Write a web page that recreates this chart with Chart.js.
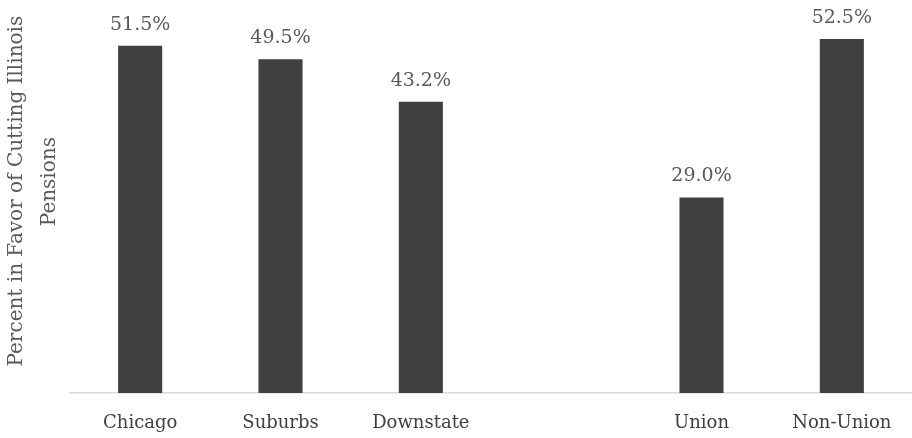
<!DOCTYPE html>
<html>
<head>
<meta charset="utf-8">
<script src="https://cdn.jsdelivr.net/npm/chart.js@4"></script>
<style>
	html, body { margin: 0; padding: 0; background: #fff; }
	#wrap { width: 912px; height: 438px; }
</style>
</head>
<body>
<div id="wrap"><canvas id="myChart"></canvas></div>
<script>
const categories = ["Chicago", "Suburbs", "Downstate", "", "Union", "Non-Union"];
const percentValues = [51.5, 49.5, 43.2, null, 29.0, 52.5];
// leading spaces nudge each line up a bit, like the original's layout
const axisTitle = ["  Percent in Favor of Cutting Illinois", "     Pensions"];

// draws the "51.5%" style labels above each bar
const valueLabels = {
	id: "valueLabels",
	afterDatasetsDraw(chart) {
		const ctx = chart.ctx;
		const meta = chart.getDatasetMeta(0);
		ctx.save();
		ctx.font = "19px 'DejaVu Serif'";
		ctx.fillStyle = "#595959";
		ctx.textAlign = "center";
		ctx.textBaseline = "middle";
		meta.data.forEach((bar, i) => {
			const v = percentValues[i];
			if (v === null) return;
			ctx.fillText(v.toFixed(1) + "%", bar.x, bar.y - 21);
		});
		ctx.restore();
	},
};

new Chart(document.getElementById("myChart"), {
	type: "bar",
	data: {
		labels: categories,
		datasets: [
			{
				data: percentValues,
				backgroundColor: "#404040",
				borderWidth: 0,
				barPercentage: 0.314,
				categoryPercentage: 1,
			},
		],
	},
	options: {
		responsive: true,
		maintainAspectRatio: false,
		animation: false,
		layout: {
			padding: { top: 2, right: 0, bottom: 0, left: 0 },
		},
		scales: {
			x: {
				grid: { display: false, drawTicks: false },
				border: { display: true, color: "#d9d9d9", width: 1.5 },
				ticks: {
					padding: 20,
					maxRotation: 0,
					color: "#404040",
					font: { family: "'DejaVu Serif'", size: 18 },
				},
				afterFit(scale) {
					scale.height = 45;
				},
			},
			y: {
				min: 0,
				max: 58,
				grid: { display: false, drawTicks: false },
				border: { display: false },
				ticks: { display: false },
				title: {
					display: true,
					text: axisTitle,
					color: "#595959",
					font: { family: "'DejaVu Serif'", size: 20, lineHeight: 1.65 },
					padding: { top: 0, bottom: 4 },
				},
			},
		},
		plugins: {
			legend: { display: false },
			tooltip: { enabled: false },
		},
	},
	plugins: [valueLabels],
});
</script>
</body>
</html>
